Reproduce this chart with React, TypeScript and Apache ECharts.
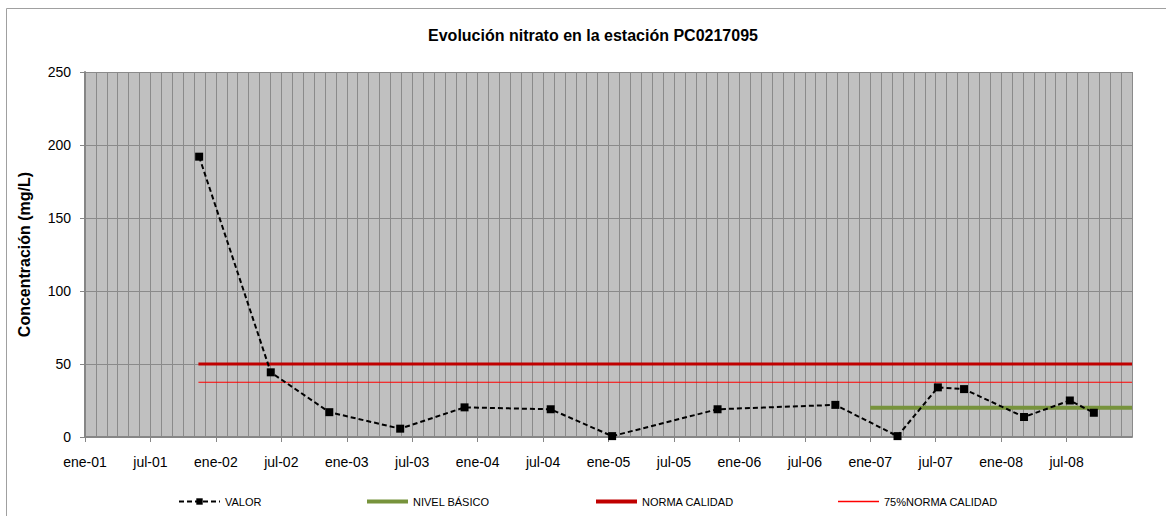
import React, { useEffect, useRef } from "react";
import * as echarts from "echarts";

const TITLE = "Evolución nitrato en la estación PC0217095";
const Y_NAME = "Concentración (mg/L)";
const MONTH_ABBR = ["ene", "feb", "mar", "abr", "may", "jun", "jul", "ago", "sep", "oct", "nov", "dic"];
const START_YEAR = 2001;

const sampleDates = [
  "2001-11-15", "2002-06-02", "2002-11-13", "2003-05-28", "2003-11-25",
  "2004-07-22", "2005-01-11", "2005-11-01", "2006-09-25", "2007-03-16",
  "2007-07-07", "2007-09-19", "2008-03-04", "2008-07-10", "2008-09-16",
];
const valorValues = [192, 44.3, 17, 5.7, 20.3, 19, 0.6, 19, 22, 0.6, 34, 32.8, 13.7, 25, 16.6];

const nivelDates = ["2007-01-01", "2009-01-01"];
const nivelValues = [20, 20];
const normaDates = ["2001-11-13", "2009-01-01"];
const normaValues = [50, 50];
const norma75Dates = ["2001-11-13", "2009-01-01"];
const norma75Values = [37.5, 37.5];

const X_MIN = 0;
const X_MAX = 96;
const Y_MAX = 250;

function toMonths(d: string): number {
  const [y, m, day] = d.split("-").map(Number);
  return (y - START_YEAR) * 12 + (m - 1) + (day - 1) / 30;
}
function pairs(dates: string[], vals: number[]) {
  return dates.map((d, i) => [toMonths(d), vals[i]]);
}

const FONT = "'Liberation Sans', Arial, sans-serif";

export default function App() {
  const ref = useRef<HTMLDivElement>(null);
  useEffect(() => {
    const chart = echarts.init(ref.current!, undefined, { renderer: "svg" });
    const legendBase = {
      top: 491,
      itemWidth: 41,
      itemHeight: 8,
      textStyle: { fontFamily: FONT, fontSize: 11, color: "#000" },
    };
    chart.setOption({
      animation: false,
      backgroundColor: "#fff",
      title: {
        text: TITLE,
        left: 588,
        textAlign: "center",
        top: 22,
        textStyle: { fontFamily: FONT, fontSize: 16, fontWeight: "bold", color: "#000" },
      },
      graphic: [
        {
          type: "rect",
          shape: { x: 6.5, y: 8.5, width: 1170, height: 520 },
          style: { fill: "none", stroke: "#A0A0A0", lineWidth: 1 },
          silent: true,
        },
      ],
      legend: [
        { ...legendBase, left: 173, data: ["VALOR"] },
        { ...legendBase, left: 362, itemHeight: 4, data: [{ name: "NIVEL BÁSICO", icon: "rect" }] },
        { ...legendBase, left: 591, itemHeight: 4, data: [{ name: "NORMA CALIDAD", icon: "rect" }] },
        { ...legendBase, left: 833, itemHeight: 1.5, data: [{ name: "75%NORMA CALIDAD", icon: "rect" }] },
      ],
      grid: { left: 85, right: 34, top: 72, bottom: 79, show: true, backgroundColor: "#C0C0C0", borderWidth: 0 },
      xAxis: {
        type: "value",
        min: X_MIN,
        max: X_MAX,
        interval: 6,
        axisLine: { show: true, onZero: false, lineStyle: { color: "#868686", width: 2 } },
        axisTick: { show: true, length: 5, lineStyle: { color: "#868686" } },
        axisLabel: {
          margin: 18,
          fontFamily: FONT,
          fontSize: 14,
          color: "#000",
          showMaxLabel: false,
          formatter: (v: number) => {
            const m = Math.round(v);
            const yr = START_YEAR + Math.floor(m / 12);
            return MONTH_ABBR[m % 12] + "-" + String(yr % 100).padStart(2, "0");
          },
        },
        splitLine: { show: true, lineStyle: { color: "#8A8A8A", width: 1 } },
        minorTick: { show: false, splitNumber: 6 },
        minorSplitLine: { show: true, lineStyle: { color: "#8A8A8A", width: 1 } },
      },
      yAxis: {
        type: "value",
        min: 0,
        max: Y_MAX,
        interval: 50,
        name: Y_NAME,
        nameLocation: "middle",
        nameGap: 53,
        nameTextStyle: { fontFamily: FONT, fontSize: 16, fontWeight: "bold", color: "#000" },
        axisLine: { show: true, lineStyle: { color: "#868686", width: 2 } },
        axisTick: { show: true, length: 5, lineStyle: { color: "#868686" } },
        axisLabel: { margin: 14, fontFamily: FONT, fontSize: 14, color: "#000" },
        splitLine: { show: true, lineStyle: { color: "#8A8A8A", width: 1 } },
      },
      series: [
        {
          name: "VALOR",
          type: "line",
          data: pairs(sampleDates, valorValues),
          symbol: "rect",
          symbolSize: 8,
          itemStyle: { color: "#000" },
          lineStyle: { color: "#000", width: 2, type: [5, 3] },
          z: 5,
        },
        {
          name: "NIVEL BÁSICO",
          type: "line",
          data: pairs(nivelDates, nivelValues),
          symbol: "none",
          itemStyle: { color: "#77933C" },
          lineStyle: { color: "#77933C", width: 4 },
          z: 3,
        },
        {
          name: "NORMA CALIDAD",
          type: "line",
          data: pairs(normaDates, normaValues),
          symbol: "none",
          itemStyle: { color: "#C00000" },
          lineStyle: { color: "#C00000", width: 3 },
          z: 3,
        },
        {
          name: "75%NORMA CALIDAD",
          type: "line",
          data: pairs(norma75Dates, norma75Values),
          symbol: "none",
          itemStyle: { color: "#FF0000" },
          lineStyle: { color: "#FF0000", width: 1 },
          z: 3,
        },
      ],
    });
    return () => chart.dispose();
  }, []);
  return (
    <div
      ref={ref}
      style={{ position: "absolute", left: 0, top: 0, width: 1166, height: 516 }}
    />
  );
}
